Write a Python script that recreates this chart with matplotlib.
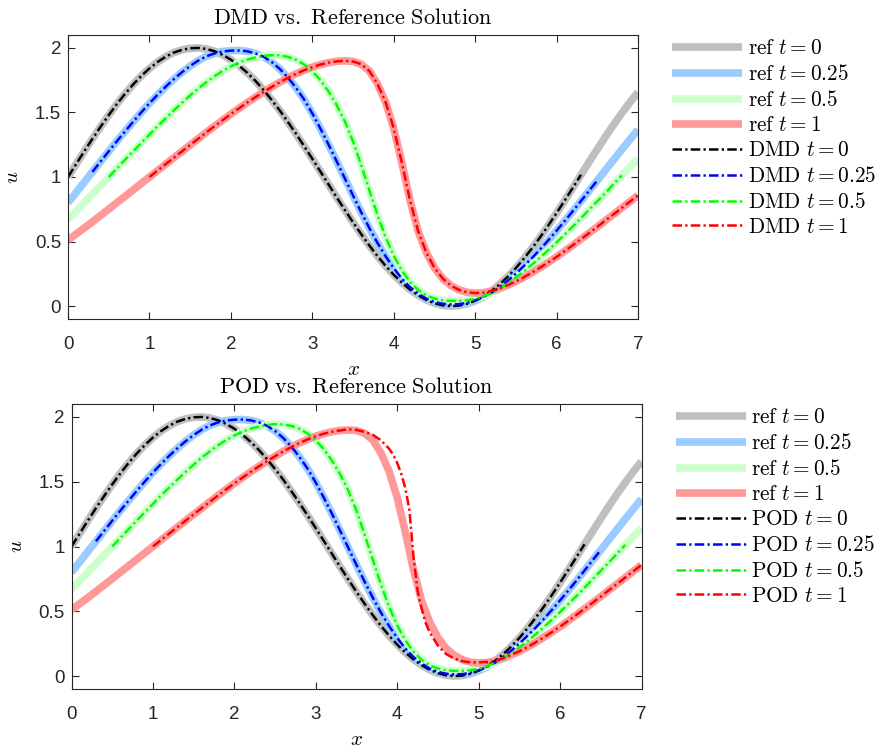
import numpy as np
import matplotlib
matplotlib.use('Agg')
import matplotlib.pyplot as plt

plt.rcParams['mathtext.fontset'] = 'cm'
plt.rcParams['font.family'] = ['Liberation Sans', 'DejaVu Sans']

# sample grid of the reference solution
x = np.linspace(0, 7, 71)
times = ['0', '0.25', '0.5', '1']

# reference solution u(x) at each time
ref_t0 = [1.000, 1.100, 1.199, 1.296, 1.389, 1.479, 1.565, 1.644, 1.717, 1.783,
          1.841, 1.891, 1.932, 1.964, 1.985, 1.997, 2.000, 1.992, 1.974, 1.946,
          1.909, 1.863, 1.808, 1.746, 1.675, 1.598, 1.516, 1.427, 1.335, 1.239,
          1.141, 1.042, 0.942, 0.842, 0.745, 0.649, 0.558, 0.470, 0.388, 0.312,
          0.243, 0.182, 0.128, 0.084, 0.048, 0.022, 0.006, 0.000, 0.004, 0.018,
          0.041, 0.074, 0.117, 0.168, 0.227, 0.294, 0.369, 0.449, 0.535, 0.626,
          0.721, 0.818, 0.917, 1.017, 1.117, 1.215, 1.312, 1.405, 1.494, 1.578,
          1.657]
ref_t025 = [0.801, 0.880, 0.960, 1.040, 1.120, 1.199, 1.277, 1.353, 1.428, 1.501,
            1.571, 1.637, 1.700, 1.758, 1.812, 1.860, 1.902, 1.935, 1.958, 1.972,
            1.979, 1.980, 1.974, 1.958, 1.932, 1.892, 1.838, 1.771, 1.691, 1.600,
            1.493, 1.375, 1.251, 1.121, 0.989, 0.857, 0.728, 0.605, 0.490, 0.386,
            0.294, 0.213, 0.147, 0.097, 0.058, 0.032, 0.018, 0.013, 0.015, 0.025,
            0.043, 0.070, 0.104, 0.146, 0.196, 0.251, 0.311, 0.373, 0.441, 0.511,
            0.584, 0.659, 0.736, 0.814, 0.894, 0.973, 1.053, 1.133, 1.212, 1.290,
            1.367]
ref_t05 = [0.670, 0.736, 0.801, 0.867, 0.933, 1.000, 1.067, 1.133, 1.199, 1.264,
           1.329, 1.394, 1.455, 1.516, 1.575, 1.632, 1.686, 1.735, 1.781, 1.822,
           1.857, 1.886, 1.909, 1.926, 1.938, 1.944, 1.942, 1.931, 1.908, 1.872,
           1.820, 1.750, 1.662, 1.557, 1.431, 1.276, 1.093, 0.898, 0.707, 0.535,
           0.391, 0.275, 0.188, 0.125, 0.083, 0.058, 0.045, 0.040, 0.040, 0.045,
           0.056, 0.076, 0.101, 0.134, 0.174, 0.221, 0.269, 0.323, 0.377, 0.435,
           0.494, 0.555, 0.617, 0.682, 0.747, 0.813, 0.877, 0.945, 1.012, 1.077,
           1.144]
ref_t1 = [0.512, 0.558, 0.605, 0.653, 0.702, 0.751, 0.801, 0.850, 0.900, 0.950,
          1.000, 1.050, 1.100, 1.149, 1.199, 1.248, 1.297, 1.346, 1.394, 1.441,
          1.487, 1.532, 1.576, 1.618, 1.658, 1.697, 1.734, 1.768, 1.799, 1.827,
          1.851, 1.871, 1.886, 1.896, 1.900, 1.895, 1.874, 1.822, 1.722, 1.580,
          1.378, 1.110, 0.820, 0.580, 0.415, 0.297, 0.215, 0.160, 0.126, 0.107,
          0.101, 0.104, 0.117, 0.137, 0.162, 0.191, 0.224, 0.260, 0.299, 0.339,
          0.381, 0.426, 0.472, 0.519, 0.566, 0.614, 0.663, 0.711, 0.760, 0.809,
          0.858]
ref_series = [ref_t0, ref_t025, ref_t05, ref_t1]

# the reduced models live on a window [t, t + 2*pi] and track the reference
rom_start = [0.0, 0.25, 0.5, 1.0]
rom_span = 6.33

# POD t = 1 departs from the reference around the steep front
pod_front_x = [3.4, 3.5, 3.6, 3.7, 3.8, 3.9, 3.95, 4.0, 4.05, 4.1, 4.15, 4.2,
               4.25, 4.3, 4.35, 4.4, 4.5, 4.6, 4.7, 4.8, 4.9, 5.0, 5.1]
pod_front_u = [1.905, 1.90, 1.885, 1.862, 1.82, 1.755, 1.71, 1.645, 1.56, 1.45,
               1.28, 0.92, 0.66, 0.52, 0.41, 0.335, 0.235, 0.17, 0.135, 0.115,
               0.105, 0.105, 0.11]

ref_colors = ['#bfbfbf', '#99ccff', '#ccffcc', '#ff9999']
rom_colors = ['black', 'blue', '#00ff00', 'red']
axis_col = '#262626'


def rom_curve(i, method):
    u = np.array(ref_series[i])
    m = (x >= rom_start[i] - 0.03) & (x <= rom_start[i] + rom_span)
    xs, us = x[m], u[m]
    if method == 'POD' and i == 3:
        left = xs < pod_front_x[0]
        right = xs > pod_front_x[-1]
        xs = np.concatenate([xs[left], pod_front_x, xs[right]])
        us = np.concatenate([us[left], pod_front_u, us[right]])
    return xs, us


def draw_panel(ax, method):
    for i, t in enumerate(times):
        ax.plot(x, ref_series[i], color=ref_colors[i], lw=5.5,
                solid_capstyle='butt', label=r'$\mathrm{ref}\ t=%s$' % t)
    for i, t in enumerate(times):
        xs, us = rom_curve(i, method)
        ax.plot(xs, us, color=rom_colors[i], lw=1.8, dashes=(3.8, 1.3, 0.9, 1.3),
                label=r'$\mathrm{%s}\ t=%s$' % (method, t))

    ax.set_xlim(0, 7)
    ax.set_ylim(-0.1, 2.1)
    ax.set_xticks(range(8))
    ax.set_yticks([0, 0.5, 1, 1.5, 2])
    ax.set_yticklabels(['0', '0.5', '1', '1.5', '2'])
    ax.tick_params(direction='in', top=True, right=True, length=5, width=0.8,
                   labelsize=13.5, colors=axis_col)
    ax.tick_params(axis='x', pad=12)
    ax.tick_params(axis='y', pad=5)
    for s in ax.spines.values():
        s.set_linewidth(0.8)
        s.set_color(axis_col)
    ax.set_title(r'$\mathrm{%s\ vs.\ Reference\ Solution}$' % method,
                 fontsize=16, pad=8)
    ax.set_xlabel(r'$x$', fontsize=15, labelpad=5)
    ax.set_ylabel(r'$u$', fontsize=15, labelpad=9)
    ax.legend(loc='upper left', bbox_to_anchor=(1.06, 0.985), frameon=False,
              fontsize=15.3, handlelength=3.3, handletextpad=0.25,
              labelspacing=0.28, borderpad=0, borderaxespad=0)


fig = plt.figure(figsize=(8.76, 7.47), dpi=100)
ax_dmd = fig.add_axes([68 / 876, 1 - 319 / 747, 570 / 876, 284 / 747])
ax_pod = fig.add_axes([71.5 / 876, 1 - 689 / 747, 570 / 876, 285 / 747])
draw_panel(ax_dmd, 'DMD')
draw_panel(ax_pod, 'POD')

fig.savefig('out.png', dpi=100)
